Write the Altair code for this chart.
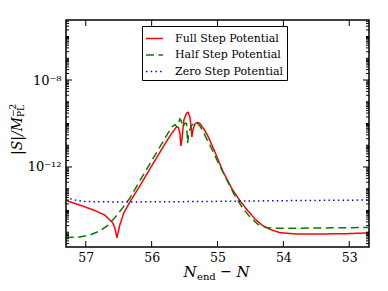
import altair as alt
import pandas as pd

series_names = ["Full Step Potential", "Half Step Potential", "Zero Step Potential"]
series_colors = ["#ff0000", "#008000", "#0000ff"]
series_dashes = [[1, 0], [8, 4.5], [1.5, 3.2]]

# N_end - N values and log10(|S|)
full_x = [57.304, 57.091, 56.863, 56.711, 56.635, 56.590, 56.559, 56.536, 56.526, 56.514,
          56.483, 56.422, 56.331, 56.179, 56.027, 55.875, 55.769, 55.693, 55.622, 55.594,
          55.571, 55.556, 55.541, 55.511, 55.470, 55.445, 55.419, 55.397, 55.389, 55.374,
          55.343, 55.305, 55.267, 55.207, 55.146, 55.040, 54.918, 54.781, 54.660, 54.538,
          54.432, 54.325, 54.204, 54.052, 53.824, 53.444, 53.064, 52.699]
full_log = [-13.54, -13.75, -14.00, -14.21, -14.44, -14.57, -14.80, -15.13, -15.26, -15.08,
            -14.67, -14.11, -13.61, -12.87, -12.09, -11.33, -10.80, -10.44, -10.16, -10.18,
            -10.44, -11.03, -10.76, -9.84, -9.53, -9.49, -9.70, -10.30, -10.62, -10.30,
            -10.02, -9.95, -10.00, -10.25, -10.57, -11.30, -12.20, -13.00, -13.55, -14.02,
            -14.39, -14.67, -14.87, -15.02, -15.08, -15.08, -15.07, -15.03]

half_x = [57.304, 57.091, 56.939, 56.787, 56.666, 56.559, 56.453, 56.331, 56.179, 56.027,
          55.875, 55.769, 55.693, 55.647, 55.617, 55.594, 55.571, 55.549, 55.526, 55.495,
          55.470, 55.454, 55.435, 55.389, 55.318, 55.267, 55.207, 55.116, 54.994, 54.872,
          54.751, 54.629, 54.508, 54.386, 54.264, 54.128, 53.976, 53.292, 52.699]
half_log = [-15.24, -15.22, -15.13, -14.94, -14.69, -14.34, -13.93, -13.43, -12.64, -11.86,
            -11.08, -10.53, -10.16, -10.05, -10.16, -10.02, -9.79, -9.89, -10.16, -9.98,
            -10.00, -10.90, -10.39, -10.07, -9.95, -10.11, -10.44, -10.99, -11.77, -12.51,
            -13.24, -13.84, -14.30, -14.64, -14.78, -14.82, -14.82, -14.80, -14.78]

zero_x = [57.304, 57.167, 57.015, 56.483, 55.267, 54.052, 52.699]
zero_log = [-13.40, -13.52, -13.59, -13.61, -13.59, -13.55, -13.52]

x_ticks = [57, 56, 55, 54, 53]
y_label_exps = [-12, -8]
y_label_text = ["10⁻¹²", "10⁻⁸"]
x_domain = [52.7, 57.3]
y_domain_exp = [-15.68, -5.24]

SERIF = "DejaVu Serif"

rows = []
for name, xs, ls in zip(series_names, [full_x, half_x, zero_x], [full_log, half_log, zero_log]):
    for i, (xv, lv) in enumerate(zip(xs, ls)):
        rows.append({"series": name, "x": xv, "y": 10 ** lv, "i": i})
df = pd.DataFrame(rows)

xscale = alt.Scale(domain=x_domain, reverse=True, nice=False, zero=False)
yscale = alt.Scale(type="log", domain=[10 ** y_domain_exp[0], 10 ** y_domain_exp[1]], nice=False)

W, H = 303, 227

legend = alt.Legend(title=None, orient="none", legendX=76, legendY=6, strokeColor="black",
                    fillColor="white", padding=3, symbolType="stroke", symbolSize=289,
                    symbolStrokeWidth=1.5, labelFont=SERIF, labelFontSize=11,
                    labelColor="black", rowPadding=1.5, labelOffset=11)

label_expr = " : ".join(
    [f"(abs(log(datum.value)/LN10 - ({e})) < 0.1) ? '{t}'" for e, t in zip(y_label_exps, y_label_text)]
) + " : ''"

xaxis = alt.Axis(values=x_ticks, format="d", title=None, labelFont=SERIF, labelFontSize=12.5,
                 labelPadding=4, labelColor="black", ticks=False, domain=False, grid=False)
yaxis = alt.Axis(values=[10.0 ** e for e in y_label_exps], labelExpr=label_expr, title=None,
                 labelFont=SERIF, labelFontSize=13, labelPadding=5, labelColor="black",
                 ticks=False, domain=False, grid=False)

lines = alt.Chart(df).mark_line(strokeWidth=1.5, clip=True).encode(
    x=alt.X("x:Q", scale=xscale, axis=xaxis),
    y=alt.Y("y:Q", scale=yscale, axis=yaxis),
    color=alt.Color("series:N", scale=alt.Scale(domain=series_names, range=series_colors), legend=legend),
    strokeDash=alt.StrokeDash("series:N", scale=alt.Scale(domain=series_names, range=series_dashes), legend=legend),
    order=alt.Order("i:Q"),
)

# tick marks (inward, on all four sides)
xt = pd.DataFrame({"x": x_ticks})
y_major = [10.0 ** e for e in y_label_exps]
y_minor = []
for e in range(-16, -4):
    for k in range(1, 10):
        v = k * 10.0 ** e
        if 10 ** y_domain_exp[0] < v < 10 ** y_domain_exp[1] and v not in y_major:
            y_minor.append(v)
ytM = pd.DataFrame({"y": y_major})
ytm = pd.DataFrame({"y": y_minor})

def xrule(y0, y1):
    return alt.Chart(xt).mark_rule(color="black", strokeWidth=1).encode(
        x=alt.X("x:Q", scale=xscale, axis=xaxis), y=alt.value(y0), y2=alt.value(y1))

def yrule(d, x0, x1):
    return alt.Chart(d).mark_rule(color="black", strokeWidth=1).encode(
        y=alt.Y("y:Q", scale=yscale, axis=yaxis), x=alt.value(x0), x2=alt.value(x1))

ticks = [
    xrule(H, H - 6), xrule(0, 6),
    yrule(ytM, 0, 6), yrule(ytM, W - 6, W),
    yrule(ytm, 0, 3), yrule(ytm, W - 3, W),
]

def txt(s, x, y, size, style="normal", align="center", baseline="alphabetic", angle=0):
    kw = dict(font=SERIF, fontSize=size, fontStyle=style, align=align,
              baseline=baseline, color="black")
    if angle:
        kw["angle"] = angle
    return alt.Chart(pd.DataFrame({"t": [s]})).mark_text(**kw).encode(
        text="t:N", x=alt.value(x), y=alt.value(y))

titles = [
    txt("N", 124, 257, 15, "italic"),
    txt("end", 131, 260, 10, align="left"),
    txt("−", 160, 256, 14),
    txt("N", 177, 257, 15, "italic"),
    txt("|S|/M", -44, 97, 14, "italic", align="right", angle=270),
    txt("−2", -50, 97, 9, align="left", angle=270),
    txt("PL", -42, 97, 9, align="left", angle=270),
]

chart = alt.layer(lines, *ticks, *titles).properties(
    width=W, height=H,
    autosize=alt.AutoSizeParams(type="none"),
    padding={"left": 58, "top": 12, "right": 11, "bottom": 36},
).configure_view(stroke="black", strokeWidth=1.5)

chart.save("out.html", embed_options={"renderer": "svg", "actions": False})
